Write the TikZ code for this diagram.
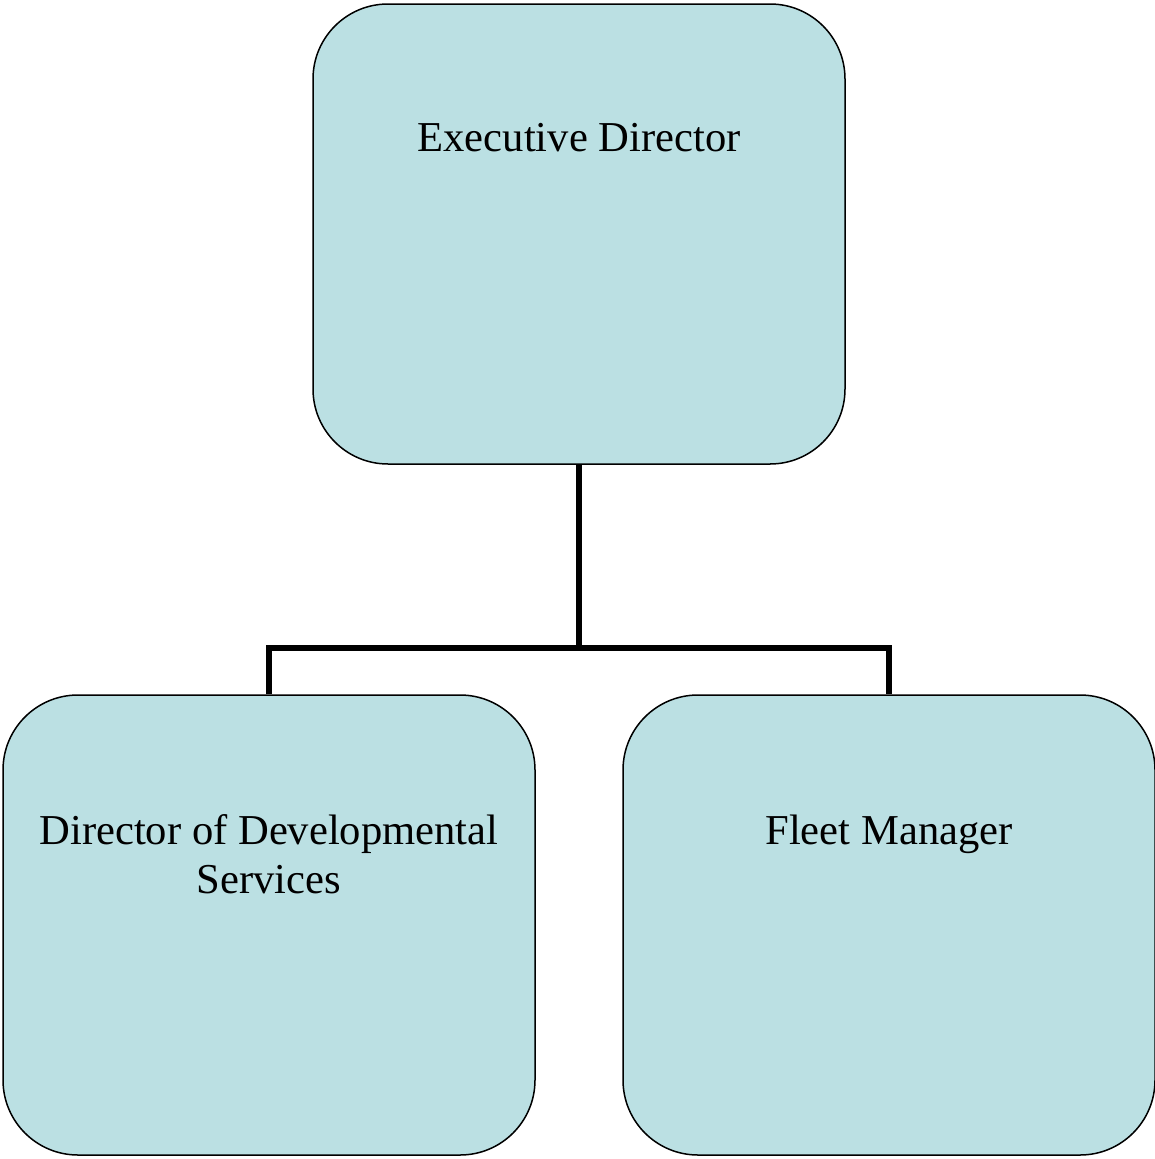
\documentclass[tikz,border=0pt]{standalone}
\usepackage{fontspec}
\setmainfont{Liberation Serif}
\usepackage{xcolor}
\usepackage{tikz}
\usetikzlibrary{positioning,calc}

\definecolor{boxfill}{HTML}{BBE0E3}

\begin{document}
\begin{tikzpicture}[
  x=1pt, y=-1pt,
  box/.style={rectangle, rounded corners=75pt, draw, line width=1.5pt, fill=boxfill,
              minimum width=532pt, minimum height=460pt, inner sep=0pt},
  lbl/.style={font=\fontsize{42.6}{49}\selectfont, align=center, inner sep=0pt, anchor=north},
  rel/.style={-{}, line width=5.5pt}
]
  \useasboundingbox (0,0) rectangle (1155,1159);

  \node[box] (exec) at (579,234) {};
  \node[box] (devDir) at (269,925) {};
  \node[box] (fleet) at (889,925) {};

  \node[lbl] (execT) at ([yshift=-120pt]exec.north) {Executive Director};
  \node[lbl] (devDirT) at ([yshift=-120pt]devDir.north) {Director of Developmental\\Services};
  \node[lbl] (fleetT) at ([yshift=-120pt]fleet.north) {Fleet Manager};

  \draw[rel] (exec.south) -- ++(0,183) coordinate (hub);
  \draw[rel] (devDir.north) |- (hub) -| (fleet.north);
\end{tikzpicture}
\end{document}
